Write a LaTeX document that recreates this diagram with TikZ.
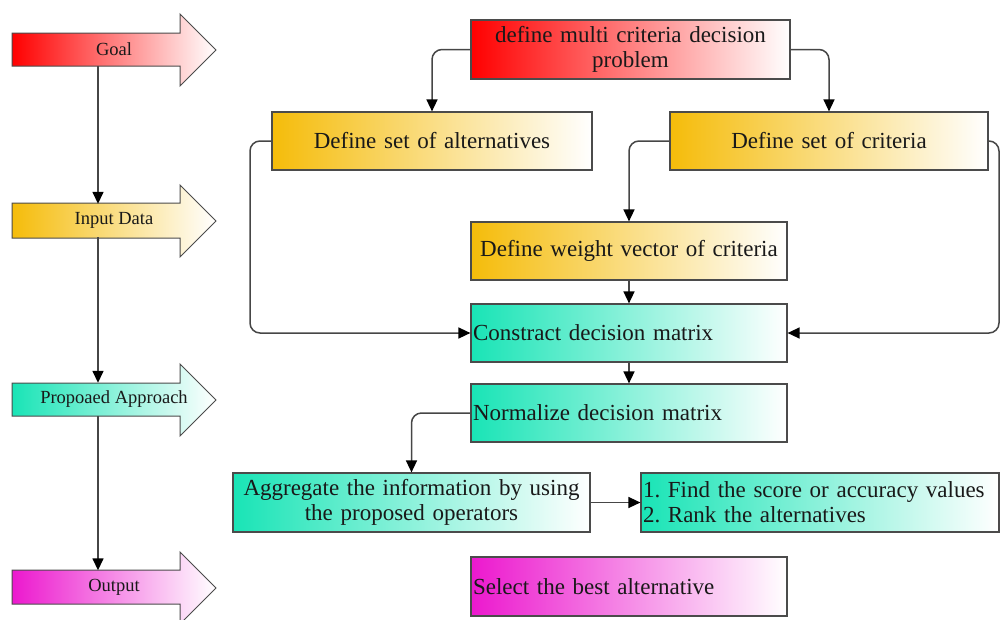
\documentclass[tikz,border=0pt]{standalone}
\usepackage{fontspec}
\setmainfont{Liberation Serif}
\usetikzlibrary{arrows.meta}
\definecolor{cRed}{RGB}{255,0,0}
\definecolor{cGold}{RGB}{245,188,10}
\definecolor{cTeal}{RGB}{25,228,182}
\definecolor{cMag}{RGB}{236,24,206}
\definecolor{cLine}{RGB}{70,70,70}
\definecolor{cBorder}{RGB}{75,75,75}
\frenchspacing
\begin{document}
\begin{tikzpicture}[x=1pt,y=-1pt,
  box/.style={draw=cBorder,line width=1.2pt,inner sep=2pt,minimum height=58pt,
    font=\fontsize{23}{25}\selectfont,text=black!90,right color=white},
  conn/.style={draw=cLine,line width=1.5pt,rounded corners=10pt,
    -{Triangle[length=12pt,width=11pt,color=black]}},
  arrshape/.style={draw=cBorder,line width=1pt,right color=white},
  arrlabel/.style={minimum width=204pt,minimum height=33pt,inner sep=0pt,
    font=\fontsize{18.5}{20}\selectfont,text=black!90}]
\useasboundingbox (0,0) rectangle (1001,619);

% left stage arrows
\shadedraw[arrshape,left color=cRed]  (12,33) -- (180,33) -- (180,14) -- (216,50) -- (180,86) -- (180,66) -- (12,66) -- cycle;
\shadedraw[arrshape,left color=cGold] (12,203) -- (180,203) -- (180,185) -- (216,221) -- (180,257) -- (180,238) -- (12,238) -- cycle;
\shadedraw[arrshape,left color=cTeal] (12,383) -- (180,383) -- (180,364) -- (216,400) -- (180,436) -- (180,416) -- (12,416) -- cycle;
\shadedraw[arrshape,left color=cMag]  (12,570) -- (180,570) -- (180,552) -- (216,588) -- (180,624) -- (180,604) -- (12,604) -- cycle;

\node[arrlabel] (goal) at (114,49.5) {Goal};
\node[arrlabel] (inp)  at (114,220.5) {Input Data};
\node[arrlabel] (appr) at (114,399.5) {Propoaed Approach};
\node[arrlabel] (outp) at (114,587) {Output};

\coordinate (lx) at (98,0);
\draw[conn] (goal.south -| lx) -- (inp.north -| lx);
\draw[conn] (inp.south -| lx) -- (appr.north -| lx);
\draw[conn] (appr.south -| lx) -- (outp.north -| lx);

% boxes
\node[box,left color=cRed,text width=315pt,minimum height=59pt,align=center] (prob) at (630.5,49.5) {define multi criteria decision\\problem};
\node[box,left color=cGold,text width=316pt,align=center] (alt) at (432,141) {Define set of alternatives};
\node[box,left color=cGold,text width=314pt,align=center] (crit) at (829,141) {Define set of criteria};
\node[box,left color=cGold,text width=312pt,align=center] (weight) at (629,251) {Define weight vector of criteria};
\node[box,left color=cTeal,text width=312pt,align=left] (constr) at (629,333) {Constract decision matrix};
\node[box,left color=cTeal,text width=312pt,align=left] (norm) at (629,413) {Normalize decision matrix};
\node[box,left color=cTeal,text width=353pt,minimum height=59pt,align=center] (aggr) at (411.5,502.5) {Aggregate the information by using\\the proposed operators};
\node[box,left color=cTeal,text width=354pt,minimum height=59pt,align=left] (find) at (820,502.5) {1. Find the score or accuracy values\\2. Rank the alternatives};
\node[box,left color=cMag,text width=312pt,minimum height=59pt,align=left] (sel) at (629,586.5) {Select the best alternative};

% connectors
\coordinate (rx) at (999,0);
\coordinate (ax) at (250,0);
\draw[conn] (prob.west) -| (alt.north);
\draw[conn] (prob.east) -| (crit.north);
\draw[conn] (alt.west) -- (alt.west -| ax) |- (constr.west);
\draw[conn] (crit.west) -| (weight.north);
\draw[conn] (crit.east) -- (crit.east -| rx) |- (constr.east);
\draw[conn] (weight.south) -- (constr.north);
\draw[conn] (constr.south) -- (norm.north);
\draw[conn] (norm.west) -| (aggr.north);
\draw[conn] (aggr.east) -- (find.west);
\end{tikzpicture}
\end{document}
